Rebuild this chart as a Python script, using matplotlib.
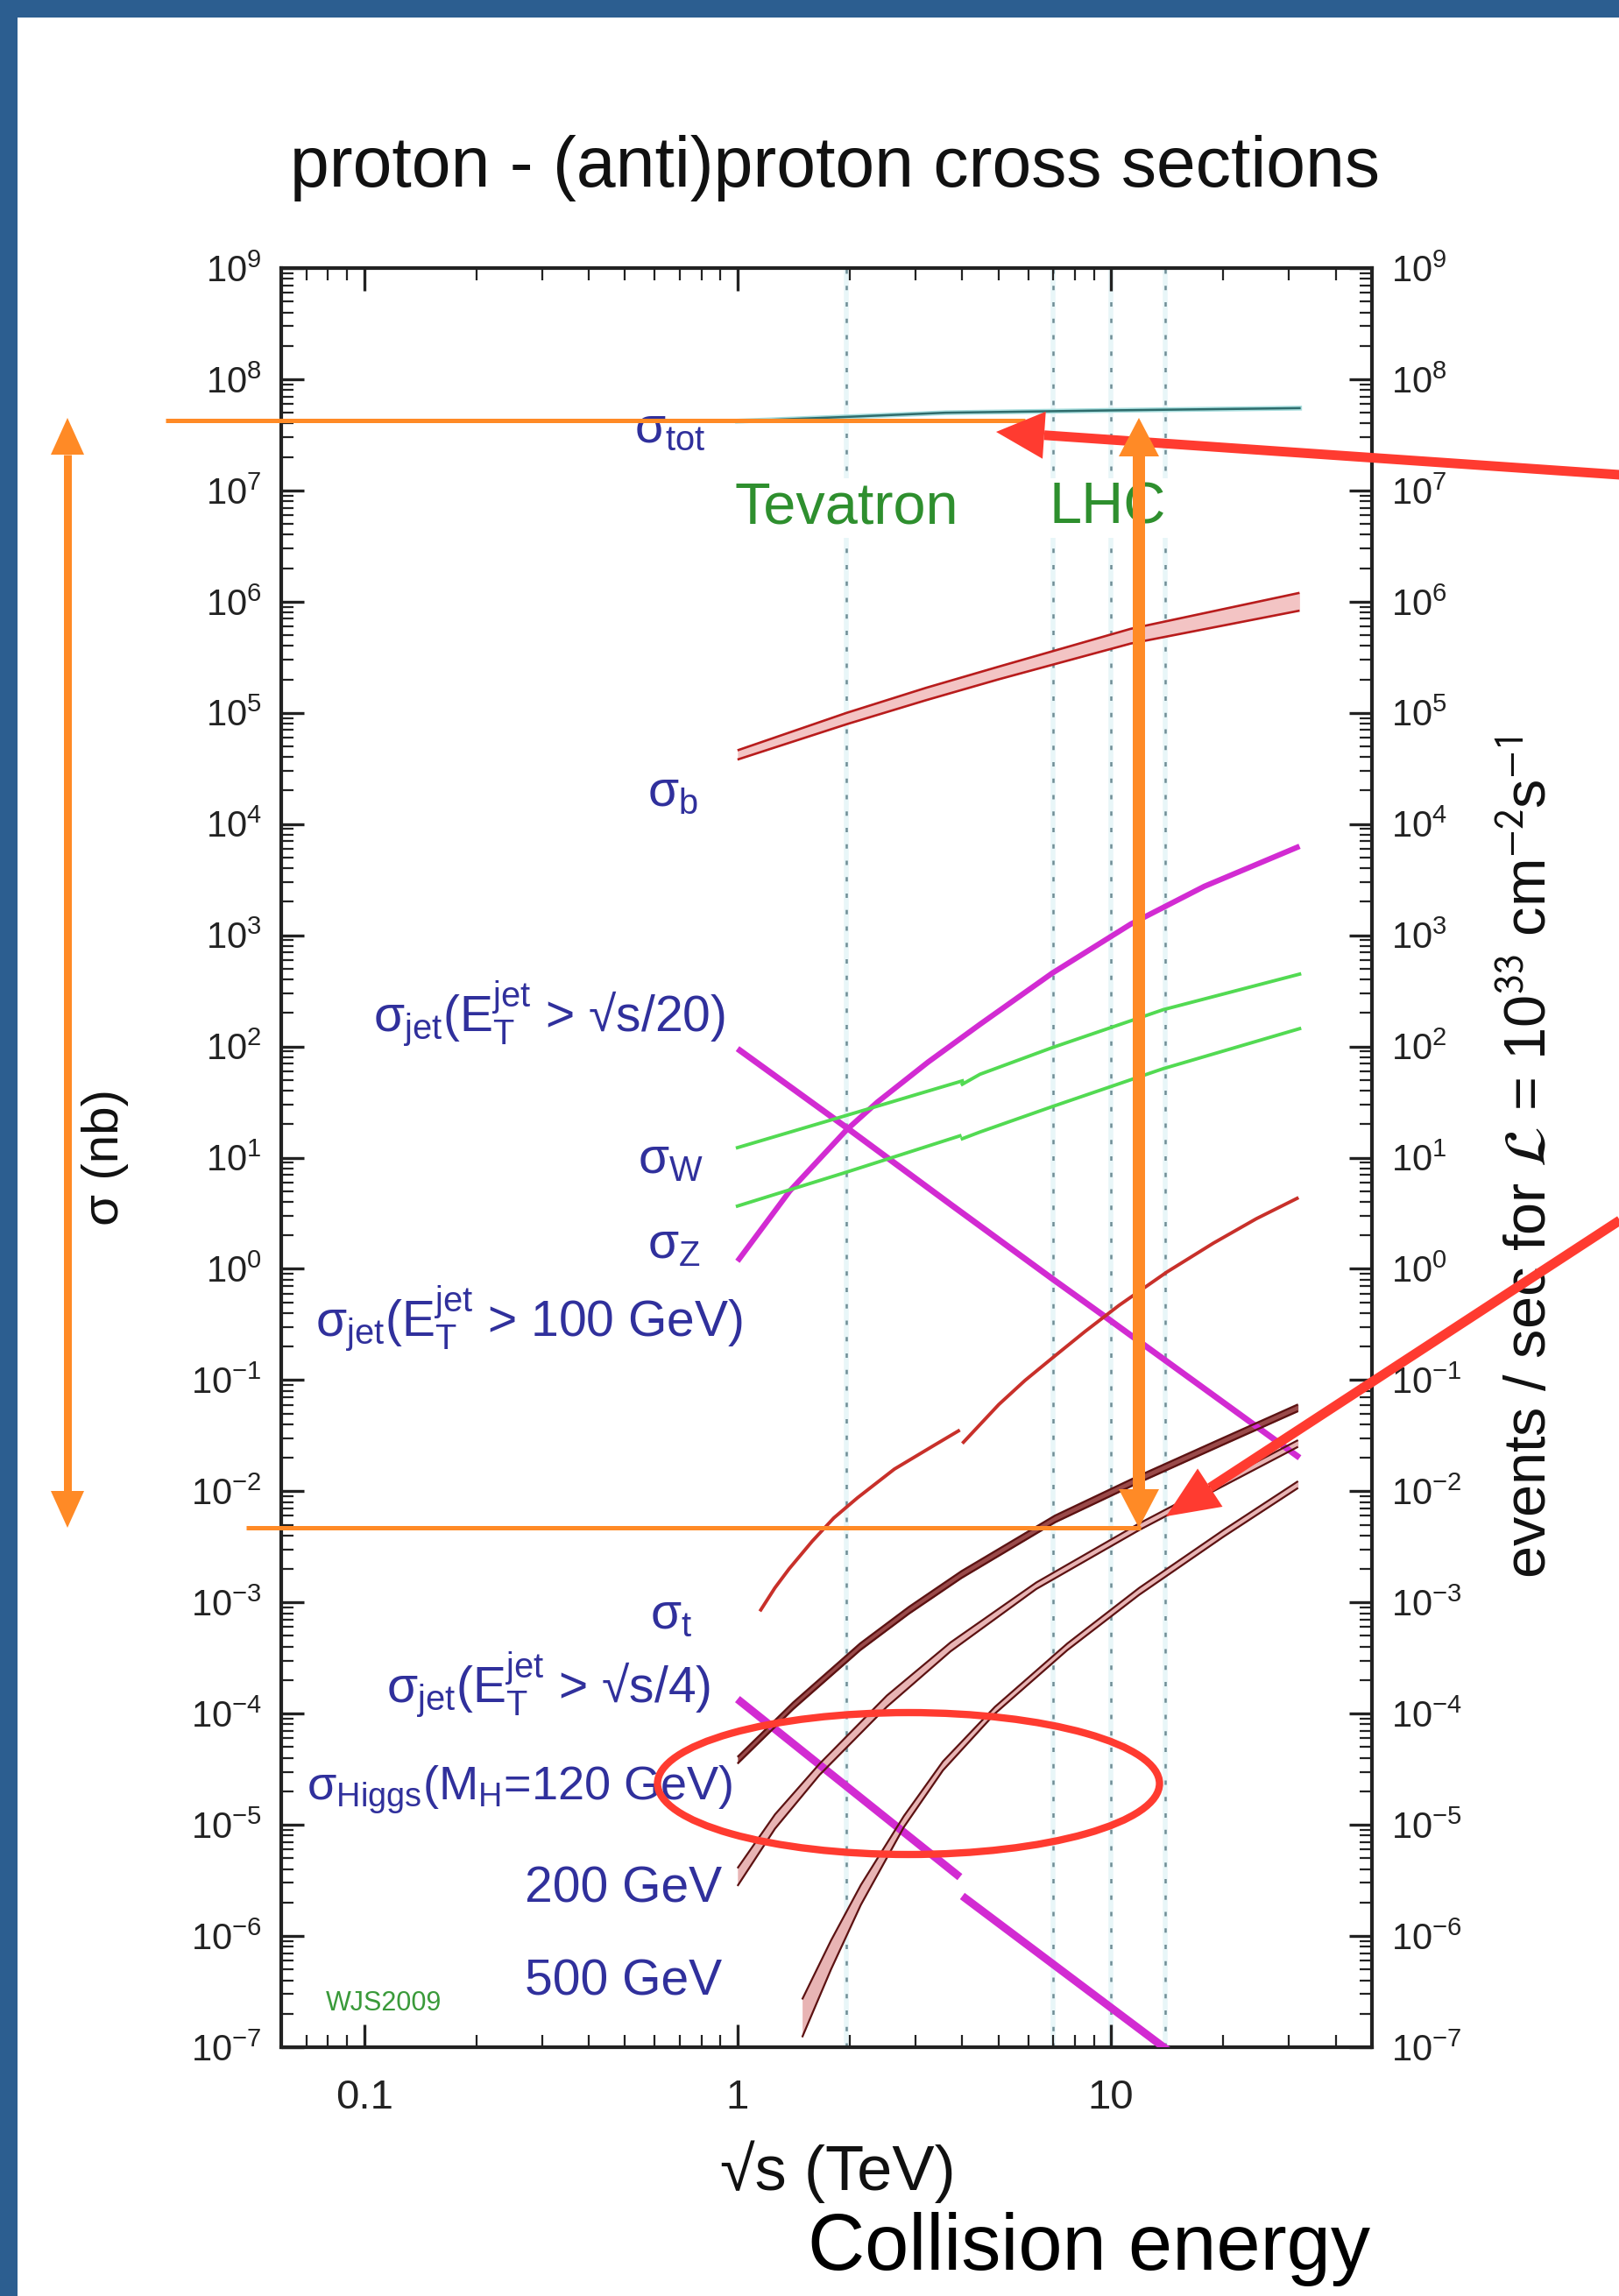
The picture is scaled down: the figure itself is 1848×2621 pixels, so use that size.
import numpy as np
import matplotlib
matplotlib.use('Agg')
import matplotlib.pyplot as plt
from matplotlib.lines import Line2D
from matplotlib.patches import Polygon, Ellipse, Rectangle
from matplotlib.ticker import LogLocator, FixedLocator, FuncFormatter, NullFormatter

plt.rcParams['font.family'] = ['Liberation Sans', 'DejaVu Sans']
plt.rcParams['mathtext.fontset'] = 'custom'
plt.rcParams['mathtext.rm'] = 'Liberation Sans'
plt.rcParams['mathtext.it'] = 'Liberation Sans:italic'
plt.rcParams['mathtext.bf'] = 'Liberation Sans:bold'
plt.rcParams['mathtext.sf'] = 'Liberation Sans'

# ---------------- data (sqrt(s) in TeV, sigma in nb) ----------------
sqrt_s_tot = [1.0, 2.0, 3.6, 10.0, 32.0]
sigma_tot = [4.2e7, 4.6e7, 5.0e7, 5.25e7, 5.5e7]

sqrt_s_b = [1.0, 1.96, 3.2, 5.0, 11.3, 32.0]
sigma_b_upper = [4.6e4, 1.0e5, 1.68e5, 2.6e5, 5.7e5, 1.2e6]
sigma_b_lower = [3.8e4, 7.9e4, 1.30e5, 2.0e5, 4.2e5, 8.3e5]

sqrt_s_jet100 = [1.0, 1.38, 1.96, 2.37, 3.24, 4.46, 6.97, 11.3, 17.8, 32.0]
sigma_jet100 = [1.17, 5.01, 17.8, 31.6, 72.4, 158, 457, 1259, 2754, 6310]

sqrt_s_jet20 = [1.0, 1.96, 3.72, 6.97, 9.64, 32.0]
sigma_jet20 = [95.5, 18.6, 3.80, 0.813, 0.372, 0.0200]

sqrt_s_W_lo = [1.0, 1.96, 3.1, 4.0]
sigma_W_lo = [12.3, 24.0, 38.0, 49.0]
sqrt_s_W_hi = [4.0, 4.46, 6.97, 13.8, 32.0]
sigma_W_hi = [45.7, 56.2, 97.7, 214, 447]

sqrt_s_Z_lo = [1.0, 1.96, 3.94]
sigma_Z_lo = [3.67, 7.41, 15.7]
sqrt_s_Z_hi = [4.0, 4.46, 6.97, 13.8, 32.0]
sigma_Z_hi = [14.8, 17.0, 28.8, 63.1, 144.5]

sqrt_s_t_lo = [1.148, 1.259, 1.374, 1.585, 1.811, 2.094, 2.63, 3.35, 3.94]
sigma_t_lo = [8.32e-4, 1.35e-3, 2.0e-3, 3.55e-3, 5.75e-3, 8.71e-3, 1.58e-2, 2.57e-2, 3.55e-2]
sqrt_s_t_hi = [4.0, 5.01, 5.89, 6.97, 8.51, 10.5, 14.1, 18.8, 24.5, 31.8]
sigma_t_hi = [2.69e-2, 6.03e-2, 9.93e-2, 0.158, 0.272, 0.468, 0.933, 1.70, 2.82, 4.37]

sqrt_s_jet4_lo = [1.0, 3.94]
sigma_jet4_lo = [1.35e-4, 3.39e-6]
sqrt_s_jet4_hi = [4.0, 14.5]
sigma_jet4_hi = [2.29e-6, 8.9e-8]

sqrt_s_h120 = [1.0, 1.41, 2.13, 2.88, 3.98, 7.08, 11.9, 20.0, 31.7]
sigma_h120_upper = [4.07e-5, 1.26e-4, 4.27e-4, 9.12e-4, 1.91e-3, 6.03e-3, 1.38e-2, 3.02e-2, 6.03e-2]
sigma_h120_lower = [3.55e-5, 1.10e-4, 3.72e-4, 7.94e-4, 1.66e-3, 5.25e-3, 1.20e-2, 2.63e-2, 5.25e-2]

sqrt_s_h200 = [1.0, 1.26, 1.66, 2.51, 3.72, 6.31, 11.9, 31.7]
sigma_h200_upper = [4.07e-6, 1.24e-5, 3.55e-5, 1.45e-4, 4.37e-4, 1.51e-3, 5.13e-3, 2.88e-2]
sigma_h200_lower = [2.82e-6, 9.23e-6, 2.82e-5, 1.15e-4, 3.63e-4, 1.32e-3, 4.47e-3, 2.51e-2]

sqrt_s_h500 = [1.49, 1.78, 2.14, 2.79, 3.55, 4.89, 7.64, 11.9, 20.0, 31.7]
sigma_h500_upper = [2.69e-7, 9.12e-7, 2.88e-6, 1.20e-5, 3.72e-5, 1.15e-4, 4.27e-4, 1.35e-3, 4.47e-3, 1.23e-2]
sigma_h500_lower = [1.23e-7, 5.01e-7, 1.91e-6, 9.55e-6, 3.09e-5, 1.00e-4, 3.72e-4, 1.17e-3, 3.89e-3, 1.07e-2]

collider_energies = [1.96, 7.0, 10.0, 14.0]
x_tick_values = [0.1, 1, 10]
x_tick_labels = ['0.1', '1', '10']

# ---------------- figure ----------------
W, H = 1849, 2621
fig = plt.figure(figsize=(W / 100, H / 100), dpi=100)
fig.patch.set_facecolor('white')


def fx(X):
    return X / W


def fy(Y):
    return 1 - Y / H


BLUE_BORDER = '#2C5E90'
fig.add_artist(Rectangle((0, fy(20)), 1, 20 / H, transform=fig.transFigure,
                         color=BLUE_BORDER, lw=0))
fig.add_artist(Rectangle((0, 0), 20 / W, 1, transform=fig.transFigure,
                         color=BLUE_BORDER, lw=0))

ax = fig.add_axes([fx(321), fy(2337), (1566 - 321) / W, (2337 - 306) / H])
ax.set_xscale('log')
ax.set_yscale('log')
ax.set_xlim(0.06, 50)
ax.set_ylim(1e-7, 1e9)

for sp in ax.spines.values():
    sp.set_linewidth(3.0)
    sp.set_color('#222222')

ax.xaxis.set_major_locator(FixedLocator(x_tick_values))
ax.xaxis.set_major_formatter(FuncFormatter(
    lambda v, p: x_tick_labels[x_tick_values.index(v)] if v in x_tick_values else ''))
ax.xaxis.set_minor_locator(LogLocator(base=10, subs=np.arange(2, 10), numticks=20))
ax.xaxis.set_minor_formatter(NullFormatter())
ax.yaxis.set_major_locator(LogLocator(base=10, numticks=30))
ax.yaxis.set_minor_locator(LogLocator(base=10, subs=np.arange(2, 10), numticks=200))
ax.yaxis.set_minor_formatter(NullFormatter())
ax.yaxis.set_major_formatter(FuncFormatter(lambda v, p: r'$10^{%d}$' % int(round(np.log10(v)))))

ax.tick_params(which='major', direction='in', length=19, width=2.4, top=True, right=True,
               labelright=True, colors='#222222')
ax.tick_params(which='minor', direction='in', length=10, width=1.6, top=True, right=True,
               colors='#222222')
ax.tick_params(axis='y', which='major', labelsize=30, pad=16)
ax.tick_params(axis='x', which='major', labelsize=34, pad=26)

# collider energy guide lines
for e in collider_energies:
    ax.axvline(e, color='#E8F6F8', lw=4, zorder=0.4)
    ax.axvline(e, color='#6F8E96', lw=1.8, ls=(0, (2, 5.5)), zorder=0.5)

MAGENTA = '#D22BD2'
GREEN = '#52DA52'
RED = '#C8302A'
MAROON = '#5C1212'


def band(x, up, lo, edge, fill, lw):
    ax.fill_between(x, lo, up, color=fill, lw=0, zorder=2)
    ax.plot(x, up, color=edge, lw=lw, zorder=3, solid_capstyle='butt')
    ax.plot(x, lo, color=edge, lw=lw, zorder=3, solid_capstyle='butt')


# sigma_tot
ax.plot(sqrt_s_tot, sigma_tot, color='#A8DEDE', lw=4.0, zorder=3)
ax.plot(sqrt_s_tot, sigma_tot, color='#2E6C6C', lw=1.8, zorder=3)

# sigma_b
band(sqrt_s_b, sigma_b_upper, sigma_b_lower, '#B81C1C', '#F3C4C4', 1.9)

# jets
ax.plot(sqrt_s_jet100, sigma_jet100, color=MAGENTA, lw=4.5, zorder=3, solid_capstyle='butt')
ax.plot(sqrt_s_jet20, sigma_jet20, color=MAGENTA, lw=5.0, zorder=3, solid_capstyle='butt')
ax.plot(sqrt_s_jet4_lo, sigma_jet4_lo, color=MAGENTA, lw=6.5, zorder=3, solid_capstyle='butt')
ax.plot(sqrt_s_jet4_hi, sigma_jet4_hi, color=MAGENTA, lw=6.5, zorder=3, solid_capstyle='butt')

# W, Z
ax.plot(sqrt_s_W_lo, sigma_W_lo, color=GREEN, lw=2.8, zorder=3)
ax.plot(sqrt_s_W_hi, sigma_W_hi, color=GREEN, lw=2.8, zorder=3)
ax.plot(sqrt_s_Z_lo, sigma_Z_lo, color=GREEN, lw=2.8, zorder=3)
ax.plot(sqrt_s_Z_hi, sigma_Z_hi, color=GREEN, lw=2.8, zorder=3)

# top
ax.plot(sqrt_s_t_lo, sigma_t_lo, color=RED, lw=2.8, zorder=3, solid_capstyle='butt')
ax.plot(sqrt_s_t_hi, sigma_t_hi, color=RED, lw=2.8, zorder=3, solid_capstyle='butt')

# Higgs
band(sqrt_s_h120, sigma_h120_upper, sigma_h120_lower, MAROON, '#9A4A4A', 1.7)
band(sqrt_s_h200, sigma_h200_upper, sigma_h200_lower, MAROON, '#E8B4B4', 1.6)
band(sqrt_s_h500, sigma_h500_upper, sigma_h500_lower, MAROON, '#E8B4B4', 1.6)

# ---------------- texts ----------------
LBL = '#30309C'
labels = [
    (r'σ$_{\rm tot}$', 806, 490, 41),
    (r'σ$_{\rm b}$', 797, 905, 41),
    (r'σ$_{\rm jet}$(E$_{\rm T}^{\rm jet}$ > √s/20)', 828, 1157, 41),
    (r'σ$_{\rm W}$', 803, 1324, 41),
    (r'σ$_{\rm Z}$', 800, 1421, 41),
    (r'σ$_{\rm jet}$(E$_{\rm T}^{\rm jet}$ > 100 GeV)', 848, 1505, 41),
    (r'σ$_{\rm t}$', 791, 1844, 41),
    (r'σ$_{\rm jet}$(E$_{\rm T}^{\rm jet}$ > √s/4)', 811, 1923, 41),
    (r'σ$_{\rm Higgs}$(M$_{\rm H}$=120 GeV)', 836, 2043, 39),
    ('200 GeV', 824, 2157, 41),
    ('500 GeV', 824, 2262, 41),
]
for txt, xr, yc, fs in labels:
    fig.text(fx(xr), fy(yc), txt, ha='right', va='center', fontsize=fs, color=LBL, zorder=4)

fig.text(fx(966), fy(580), 'Tevatron', ha='center', va='center', fontsize=48, color='#2E8F2E',
         bbox=dict(facecolor='white', edgecolor='none', pad=2), zorder=4)
fig.text(fx(1264), fy(580), 'LHC', ha='center', va='center', fontsize=48, color='#2E8F2E',
         bbox=dict(facecolor='white', edgecolor='none', pad=2), zorder=4)
fig.text(fx(438), fy(2287), 'WJS2009', ha='center', va='center', fontsize=22, color='#3A9A3A')

fig.text(fx(953), fy(192), 'proton - (anti)proton cross sections', ha='center', va='center',
         fontsize=58, color='#111111')
fig.text(fx(956), fy(2479), '√s (TeV)', ha='center', va='center', fontsize=52, color='#111111')
fig.text(fx(1243), fy(2568), 'Collision energy', ha='center', va='center', fontsize=65, color='black')
fig.text(fx(120), fy(1321), 'σ (nb)', ha='center', va='center', rotation=90, fontsize=42,
         color='#111111')
fig.text(fx(1747), fy(1321), r'events / sec for $\mathcal{L}$ = 10$^{33}$ cm$^{-2}$s$^{-1}$',
         ha='center', va='center', rotation=90, fontsize=48, color='#111111',
         math_fontfamily='stixsans')

# ---------------- annotations (figure pixel coordinates) ----------------
ORANGE = '#FF8A26'
REDA = '#FF3B30'


def px_line(x0, y0, x1, y1, color, lw_px):
    fig.add_artist(Line2D([fx(x0), fx(x1)], [fy(y0), fy(y1)], transform=fig.transFigure,
                          color=color, lw=lw_px * 0.72, solid_capstyle='butt', zorder=6))


def head(tip, frm, length, width, color):
    tip = np.asarray(tip, float)
    frm = np.asarray(frm, float)
    u = (tip - frm) / np.hypot(*(tip - frm))
    n = np.array([-u[1], u[0]])
    base = tip - u * length
    pts = [tip, base + n * width / 2, base - n * width / 2]
    fig.add_artist(Polygon([(fx(p[0]), fy(p[1])) for p in pts], closed=True,
                           transform=fig.transFigure, color=color, lw=0, zorder=7))
    return base


def arrow(x0, y0, x1, y1, color, lw_px, hl, hw, both=False):
    b1 = head((x1, y1), (x0, y0), hl, hw, color)
    start = (x0, y0)
    if both:
        start = head((x0, y0), (x1, y1), hl, hw, color)
    px_line(start[0], start[1], b1[0], b1[1], color, lw_px)


# orange horizontal guides
px_line(189, 480, 1170, 480, ORANGE, 5)
px_line(281, 1744, 1302, 1744, ORANGE, 5)
# orange double arrows
arrow(1300, 477, 1300, 1744, ORANGE, 14, 44, 46, both=True)
arrow(77, 477, 77, 1744, ORANGE, 9, 42, 38, both=True)
# red arrows
arrow(1849, 542, 1137, 493, REDA, 11, 55, 54)
arrow(1849, 1393, 1331, 1731, REDA, 11, 60, 52)
# red ellipse
fig.add_artist(Ellipse((fx(1037), fy(2036)), 573 / W, 162 / H, transform=fig.transFigure,
                       fill=False, edgecolor=REDA, lw=6, zorder=7))

fig.savefig('out.png', dpi=100, facecolor='white')
